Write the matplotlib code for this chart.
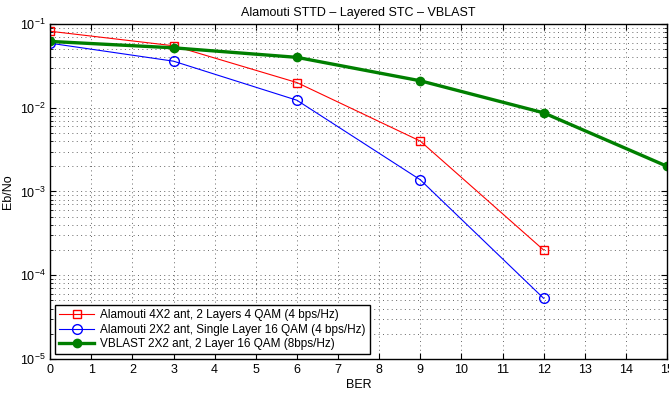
import matplotlib
matplotlib.use('Agg')
import matplotlib.pyplot as plt

plt.rcParams['font.family'] = ['Liberation Sans', 'DejaVu Sans']
plt.rcParams['font.size'] = 9

snr = [0, 3, 6, 9, 12]
snr_vblast = [0, 3, 6, 9, 12, 15]
ber_alamouti_4x2 = [0.082, 0.055, 0.020, 0.0040, 0.00020]
ber_alamouti_2x2 = [0.059, 0.036, 0.0123, 0.00138, 0.000053]
ber_vblast = [0.062, 0.052, 0.040, 0.021, 0.0087, 0.0020]

labels = ['Alamouti 4X2 ant, 2 Layers 4 QAM (4 bps/Hz)',
          'Alamouti 2X2 ant, Single Layer 16 QAM (4 bps/Hz)',
          'VBLAST 2X2 ant, 2 Layer 16 QAM (8bps/Hz)']

fig = plt.figure(figsize=(6.69, 3.94), dpi=100)
ax = fig.add_axes([0.075, 0.089, 0.922, 0.85])

ax.semilogy(snr, ber_alamouti_4x2, 'rs-', lw=0.8, ms=6, mfc='none', label=labels[0])
ax.semilogy(snr, ber_alamouti_2x2, 'bo-', lw=0.8, ms=7, mfc='none', label=labels[1])
ax.semilogy(snr_vblast, ber_vblast, '-', color='#007f00', marker='o', lw=2.4, ms=6,
            mfc='#007f00', mec='#007f00', label=labels[2])

ax.set_xlim(0, 15)
ax.set_ylim(1e-5, 1e-1)
ax.set_xticks(range(16))
ax.grid(True, which='both', ls=(0, (1, 3.5)), color='#666666', lw=0.7)
ax.tick_params(which='both', direction='in', top=True, right=True, labelsize=9)
ax.tick_params(which='major', length=4)
ax.tick_params(which='minor', length=2)
for s in ax.spines.values():
    s.set_linewidth(1.0)

ax.set_title('Alamouti STTD – Layered STC – VBLAST', fontsize=9)
ax.set_xlabel('BER', labelpad=2)
ax.set_ylabel('Eb/No')

leg = ax.legend(loc='lower left', fancybox=False, edgecolor='black', framealpha=1,
                fontsize=8.5, borderaxespad=0.4, handlelength=3.0, labelspacing=0.2,
                borderpad=0.35, handletextpad=0.5)
leg.get_frame().set_linewidth(1.0)

fig.savefig('out.png', dpi=100)
